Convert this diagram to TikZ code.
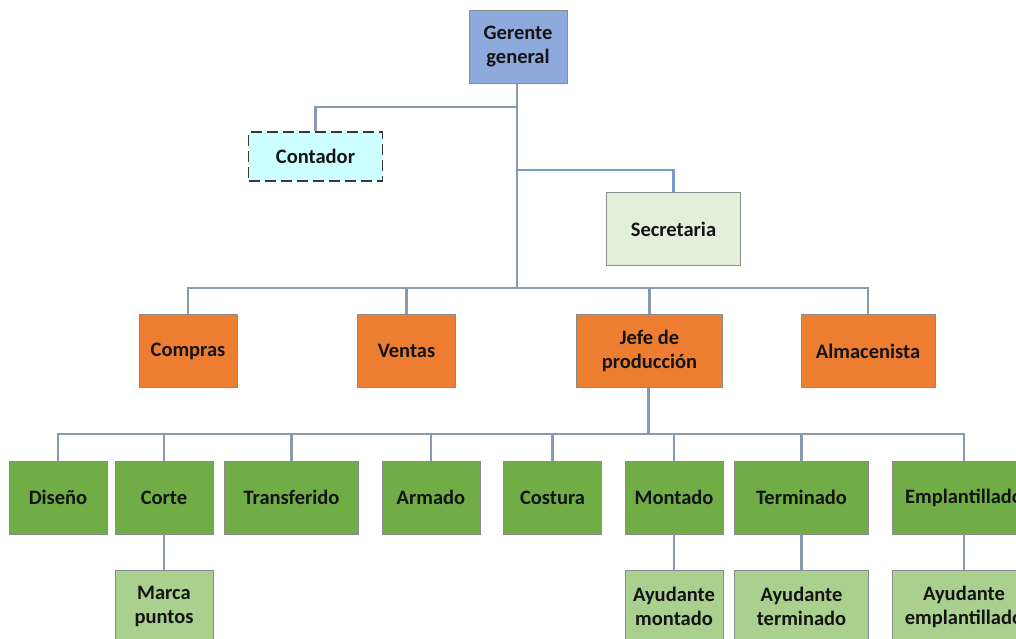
\documentclass[tikz,border=0pt]{standalone}
\usepackage{fontspec}
\setmainfont{Carlito}
\definecolor{txt}{HTML}{141414}
\definecolor{wire}{HTML}{8A99AD}
\definecolor{wireblue}{HTML}{7A9CCB}
\definecolor{edge}{HTML}{8C8C8C}
\definecolor{topfill}{HTML}{8EA9DB}
\definecolor{cyanfill}{HTML}{CCFFFF}
\definecolor{palefill}{HTML}{E2EFDA}
\definecolor{orangefill}{HTML}{ED7D31}
\definecolor{greenfill}{HTML}{70AD47}
\definecolor{lightfill}{HTML}{A9D08E}
\tikzset{
  box/.style={draw=edge, line width=0.9pt, inner sep=0pt, align=center,
    font=\bfseries\fontsize{20.5}{24}\selectfont, text=txt},
  wired/.style={draw=wire, line width=2.6pt},
  wiredblue/.style={draw=wireblue, line width=2.4pt},
}
\begin{document}
\begin{tikzpicture}[x=1pt,y=-1pt]
\clip (0,0) rectangle (1016,638);
\fill[white] (0,0) rectangle (1016,638);

% bus points
\coordinate (trunkA) at (517,107);
\coordinate (trunkB) at (517,170);
\coordinate (busTop) at (517,288);
\coordinate (busProd) at (648.5,434);

% top levels
\node[box, fill=topfill, minimum width=98pt, minimum height=73pt] (gg) at (518,46.5) {Gerente\\general};
\node[box, fill=cyanfill, draw=txt!85, dash pattern=on 11pt off 5pt, line width=1.6pt, minimum width=134pt, minimum height=49pt] (cont) at (315.5,156.5) {Contador};
\node[box, fill=palefill, minimum width=134pt, minimum height=73pt] (sec) at (673.5,229) {Secretaria};

% departments
\node[box, fill=orangefill, minimum width=98pt, minimum height=73pt] (comp) at (188,351) {Compras};
\node[box, fill=orangefill, minimum width=98pt, minimum height=73pt] (vent) at (406.5,351) {Ventas};
\node[box, fill=orangefill, minimum width=146pt, minimum height=73pt] (jefe) at (649.5,351) {Jefe de\\producción};
\node[box, fill=orangefill, minimum width=134pt, minimum height=73pt] (alm) at (868,351) {Almacenista};

% production areas
\node[box, fill=greenfill, minimum width=98pt, minimum height=73pt] (dis) at (58,497.5) {Diseño};
\node[box, fill=greenfill, minimum width=98pt, minimum height=73pt] (cor) at (164,497.5) {Corte};
\node[box, fill=greenfill, minimum width=134pt, minimum height=73pt] (tra) at (291.5,497.5) {Transferido};
\node[box, fill=greenfill, minimum width=98pt, minimum height=73pt] (arm) at (431,497.5) {Armado};
\node[box, fill=greenfill, minimum width=98pt, minimum height=73pt] (cos) at (552.5,497.5) {Costura};
\node[box, fill=greenfill, minimum width=98pt, minimum height=73pt] (mon) at (674,497.5) {Montado};
\node[box, fill=greenfill, minimum width=134pt, minimum height=73pt] (ter) at (801.5,497.5) {Terminado};
\node[box, fill=greenfill, minimum width=144pt, minimum height=73pt] (emp) at (964,497.5) {Emplantillado};

% assistants
\node[box, fill=lightfill, minimum width=98pt, minimum height=73pt] (mar) at (164,606.5) {Marca\\puntos};
\node[box, fill=lightfill, minimum width=98pt, minimum height=73pt] (amon) at (674,606.5) {Ayudante\\montado};
\node[box, fill=lightfill, minimum width=134pt, minimum height=73pt] (ater) at (801.5,606.5) {Ayudante\\terminado};
\node[box, fill=lightfill, minimum width=144pt, minimum height=73pt] (aemp) at (964,606.5) {Ayudante\\emplantillado};

% connectors
\draw[wired] (gg.south -| trunkA) -- (busTop);
\draw[wired] (trunkA) -| (cont.north);
\draw[wiredblue] (trunkB) -| (sec.north);
\draw[wired] (comp.north) |- (busTop) -| (alm.north);
\draw[wired] (vent.north) -- (vent.north |- busTop);
\draw[wired] (jefe.north) -- (jefe.north |- busTop);
\draw[wiredblue] (jefe.south -| busProd) -- (busProd);
\draw[wired] (dis.north) |- (busProd) -| (emp.north);
\foreach \n in {cor,tra,arm,cos,mon,ter}
  \draw[wired] (\n.north) -- (\n.north |- busProd);
\draw[wired] (cor.south) -- (mar.north);
\draw[wired] (mon.south) -- (amon.north);
\draw[wired] (ter.south) -- (ater.north);
\draw[wired] (emp.south) -- (aemp.north);
\end{tikzpicture}
\end{document}
